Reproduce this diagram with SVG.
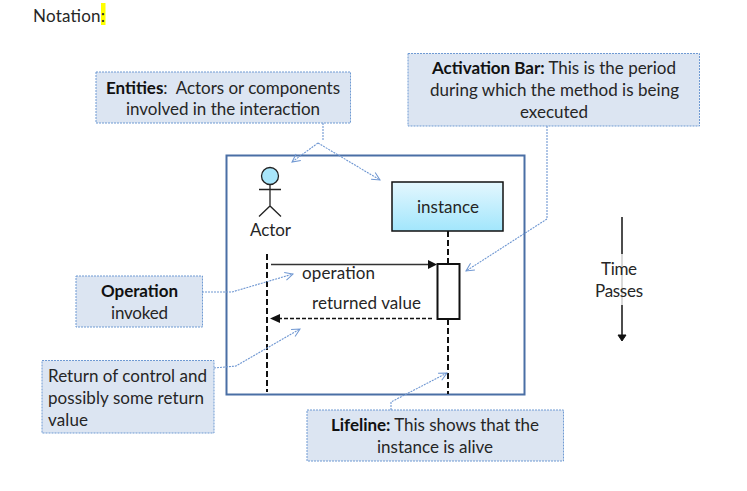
<svg xmlns="http://www.w3.org/2000/svg" width="747" height="491" viewBox="0 0 747 491">
<style>
text{font-family:"Lato","Liberation Sans",sans-serif;font-size:17px;fill:#262626;text-anchor:middle;white-space:pre}
.b{font-weight:700;fill:#111}
.l{text-anchor:start}
.note{fill:#dce5f2;stroke:#6f9ad3;stroke-width:1;stroke-dasharray:2 1}
.lead{fill:none;stroke:#6f97d2;stroke-width:1.100;stroke-dasharray:2 1}
.head{fill:none;stroke:#6f97d2;stroke-width:1}
.dash{stroke:#111;stroke-width:2;stroke-dasharray:6 3;fill:none}
</style>
<defs>
<linearGradient id="g" x1="0" y1="0" x2="0" y2="1"><stop offset="0" stop-color="#e4f7fe"/><stop offset="1" stop-color="#a2e6fc"/></linearGradient>
<marker id="open" markerWidth="12" markerHeight="12" refX="9" refY="5" orient="auto" markerUnits="userSpaceOnUse"><path class="head" d="M1 1L9 5L1 9"/></marker>
</defs>
<rect width="747" height="491" fill="#fff"/>
<g id="title"><rect x="101" y="3" width="4.500" height="22" fill="#ff0"/><text class="l" x="33" y="22" textLength="72">Notation:</text></g>
<g id="frame"><rect x="226.500" y="155.500" width="298" height="239" fill="#fff" stroke="#4a6fa5" stroke-width="2"/></g>
<g id="actor" fill="none" stroke="#222" stroke-width="1.300">
<circle cx="270" cy="176" r="8.500" fill="#a8e6fb"/><path d="M259 189.500H281M270 184.500V206M259 216.500L270 206L281 216.500"/>
<text x="270.500" y="235.800" stroke="none" textLength="41">Actor</text></g>
<g id="instance"><rect x="392" y="182" width="111" height="49" fill="url(#g)" stroke="#111" stroke-width="1.500"/><text x="448" y="212.800" textLength="62">instance</text></g>
<g id="activation-bar"><rect x="437.500" y="264" width="22" height="55" fill="#fff" stroke="#111" stroke-width="2"/></g>
<g id="entities"><rect class="note" x="96" y="72" width="254.500" height="51"/><text x="223" y="93.500" textLength="234"><tspan class="b">Entities</tspan>:  Actors or components</text><text x="223" y="114.800" textLength="194">involved in the interaction</text></g>
<g id="activation-note"><rect class="note" x="408" y="53.500" width="291.500" height="72.500"/><text x="554" y="73.500" textLength="244"><tspan class="b">Activation Bar:</tspan> This is the period</text><text x="554.500" y="95.500" textLength="249">during which the method is being</text><text x="554" y="117.800" textLength="68">executed</text></g>
<g id="operation-note"><rect class="note" x="76" y="276" width="126.500" height="51"/><text class="b" x="139.500" y="296.500" textLength="77">Operation</text><text x="139.500" y="318.500" textLength="57">invoked</text></g>
<g id="return-note"><rect class="note" x="42" y="360.500" width="172" height="72.500"/><text class="l" x="48" y="381.500" textLength="159">Return of control and</text><text class="l" x="48" y="403.500" textLength="156">possibly some return</text><text class="l" x="48" y="425.500" textLength="40">value</text></g>
<g id="lifeline-note"><rect class="note" x="307" y="410" width="256.500" height="51"/><text x="435" y="431" textLength="208"><tspan class="b">Lifeline:</tspan> This shows that the</text><text x="435" y="453" textLength="116">instance is alive</text></g>
<g id="time"><path d="M622 217V254" stroke="#111" stroke-width="1.500"/><path d="M622 254V305" stroke="#ccc" stroke-width="1.500"/><path d="M622 305V335" stroke="#111" stroke-width="1.500"/><path d="M618 335H626L622 341Z" fill="#111" stroke="#111"/><text x="619" y="275" textLength="36">Time</text><text x="619" y="297" textLength="48">Passes</text></g>
<g id="connectors">
<path class="dash" d="M448 231V264M448 319V394"/>
<path class="dash" d="M267 254V392"/>
<path d="M271 264.500H428" stroke="#333" stroke-width="1.500"/><path d="M428 260L437 264.500L428 269Z" fill="#111"/>
<path d="M432 318.500H279" stroke="#111" stroke-width="1.300" stroke-dasharray="4 2"/><path d="M280 314L270 318.500L280 323Z" fill="#111"/>
<path class="lead" d="M323 123V140M318 143L292 162" marker-end="url(#open)"/>
<path class="lead" d="M318 143L380 180" marker-end="url(#open)"/>
<path class="lead" d="M547 126V219L466 271" marker-end="url(#open)"/>
<path class="lead" d="M202 292H232L293 274" marker-end="url(#open)"/>
<path class="lead" d="M214 368L236 366L300 329" marker-end="url(#open)"/>
<path class="lead" d="M391 410V402L447 373" marker-end="url(#open)"/>
<text class="l" x="302" y="279" textLength="73">operation</text><text class="l" x="312" y="309" textLength="109">returned value</text>
</g>
</svg>
